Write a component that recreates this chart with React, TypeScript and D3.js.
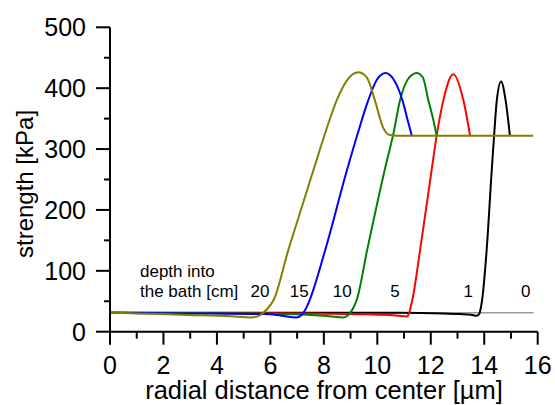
import React from "react";
import * as d3 from "d3";

type Pt = [number, number];

// radial distance [µm], strength [kPa]
const depth20: Pt[] = [
  [0, 31], [1, 30], [2.9, 27.5], [4.5, 25.5], [5.3, 23.5], [5.6, 27], [5.85, 36], [6.12, 52],
  [6.67, 134], [7.2, 208], [7.8, 292], [8.1, 333], [8.48, 380], [8.9, 415], [9.29, 426],
  [9.6, 418], [9.91, 380], [10.2, 337], [10.47, 323], [10.7, 322], [15.83, 322],
];
const depth15: Pt[] = [
  [0, 31], [3, 30], [5.8, 29], [6.42, 26.3], [6.98, 23.5], [7.17, 27.4], [7.3, 35.6], [7.42, 46.6],
  [8.05, 134], [8.85, 263], [9.25, 323], [9.66, 380], [10.0, 415], [10.31, 425],
  [10.6, 415], [10.94, 380], [11.15, 345], [11.29, 322],
];
const depth10: Pt[] = [
  [0, 31], [4, 30.5], [7.4, 28], [8.2, 25.5], [8.73, 23.5], [8.9, 27], [9.05, 35], [9.23, 52],
  [9.62, 134], [10.3, 270], [10.6, 325], [10.85, 380], [11.15, 415], [11.47, 425],
  [11.7, 418], [11.91, 380], [12.1, 347], [12.22, 322],
];
const depth5: Pt[] = [
  [0, 31], [7.3, 30], [9.54, 28.6], [10.6, 27], [11.1, 25], [11.19, 30], [11.25, 41], [11.31, 52],
  [11.6, 134], [12.03, 265], [12.22, 322], [12.47, 380], [12.84, 423], [13.22, 380], [13.47, 322],
];
const depth1: Pt[] = [
  [0, 31], [10.85, 31], [12.47, 30], [13.1, 29], [13.5, 28], [13.72, 26], [13.82, 30], [13.88, 41],
  [13.92, 52], [14.09, 134], [14.28, 265], [14.37, 323], [14.47, 380], [14.63, 411],
  [14.8, 380], [14.96, 322],
];
const depth0: Pt[] = [[0, 31], [15.84, 31]];

const seriesData: Pt[][] = [depth0, depth1, depth5, depth10, depth15, depth20];
const seriesColors = ["#999999", "#000000", "#ff0000", "#008000", "#0000ff", "#808000"];
const seriesWidths = [1.5, 2, 2, 2, 2, 2];

const depthLabels = ["20", "15", "10", "5", "1", "0"];
const depthLabelX = [5.61, 7.08, 8.69, 10.66, 13.4, 15.55];

const xMajorTicks = [0, 2, 4, 6, 8, 10, 12, 14, 16];
const xMinorTicks = [1, 3, 5, 7, 9, 11, 13, 15];
const yMajorTicks = [0, 100, 200, 300, 400, 500];
const yMinorTicks = [50, 150, 250, 350, 450];

const FONT = "'Liberation Sans', Arial, sans-serif";

export default function App() {
  const W = 555, H = 405;
  const x = d3.scaleLinear().domain([0, 16]).range([110, 537.7]);
  const y = d3.scaleLinear().domain([0, 500]).range([331.7, 27.3]);
  const line = d3
    .line<Pt>()
    .x((d) => x(d[0]))
    .y((d) => y(d[1]))
    .curve(d3.curveMonotoneX);

  const x0 = x(0);
  const yBase = y(0);

  return (
    <svg width={W} height={H} style={{ position: "absolute", left: 0, top: 0, background: "#fff" }}>
      {seriesData.map((s, i) => (
        <path key={i} d={line(s) || ""} fill="none" stroke={seriesColors[i]} strokeWidth={seriesWidths[i]} strokeLinejoin="round" />
      ))}

      <line x1={x0} x2={x0} y1={y(500)} y2={yBase} stroke="#000" strokeWidth={2} />
      <line x1={x0} x2={x(16)} y1={yBase} y2={yBase} stroke="#000" strokeWidth={2} />
      {xMajorTicks.map((t) => (
        <g key={"xM" + t}>
          <line x1={x(t)} x2={x(t)} y1={yBase} y2={yBase + 13} stroke="#000" strokeWidth={2} />
          <text x={x(t)} y={374} textAnchor="middle" fontFamily={FONT} fontSize={25} fill="#000">{t}</text>
        </g>
      ))}
      {xMinorTicks.map((t) => (
        <line key={"xm" + t} x1={x(t)} x2={x(t)} y1={yBase} y2={yBase + 7} stroke="#000" strokeWidth={2} />
      ))}
      {yMajorTicks.map((t) => (
        <g key={"yM" + t}>
          <line x1={x0 - 14} x2={x0} y1={y(t)} y2={y(t)} stroke="#000" strokeWidth={2} />
          <text x={86} y={y(t) + 9} textAnchor="end" fontFamily={FONT} fontSize={25} fill="#000">{t}</text>
        </g>
      ))}
      {yMinorTicks.map((t) => (
        <line key={"ym" + t} x1={x0 - 6} x2={x0} y1={y(t)} y2={y(t)} stroke="#000" strokeWidth={2} />
      ))}

      <text x={324} y={399} textAnchor="middle" fontFamily={FONT} fontSize={25.5} fill="#000">
        radial distance from center [µm]
      </text>
      <text transform={`translate(33,184) rotate(-90)`} textAnchor="middle" fontFamily={FONT} fontSize={24} fill="#000">
        strength [kPa]
      </text>

      <text x={140} y={276.7} fontFamily={FONT} fontSize={17} fill="#000">depth into</text>
      <text x={140} y={296.7} fontFamily={FONT} fontSize={17} fill="#000">the bath [cm]</text>
      {depthLabels.map((l, i) => (
        <text key={"dl" + i} x={x(depthLabelX[i])} y={296.7} textAnchor="middle" fontFamily={FONT} fontSize={17} fill="#000">
          {l}
        </text>
      ))}
    </svg>
  );
}
